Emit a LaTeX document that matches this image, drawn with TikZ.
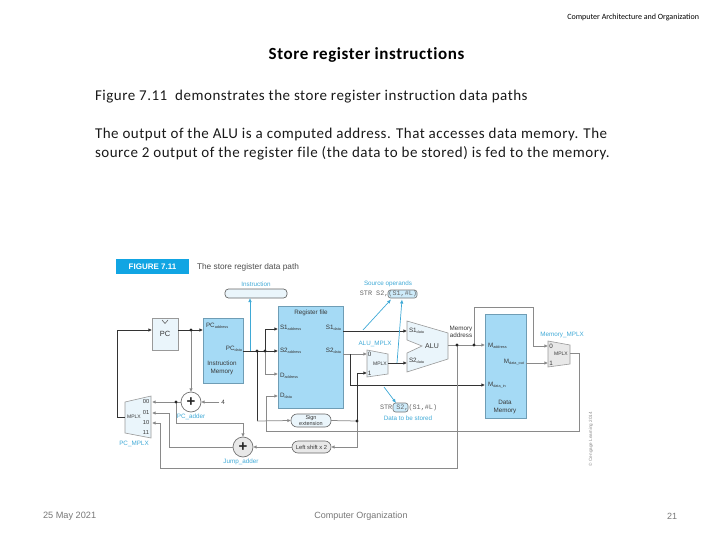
\documentclass[tikz,border=0pt]{standalone}
\usepackage{fontspec}
\setmainfont{Carlito}
\newfontfamily\figfont{Liberation Sans}
\newfontfamily\codefont{Liberation Mono}
\newfontfamily\bodyfont[LetterSpace=3.4,Ligatures=NoCommon]{Carlito}
\usetikzlibrary{arrows.meta,positioning,calc}
\definecolor{memblue}{HTML}{A5DAF5}
\definecolor{edgeblue}{HTML}{6F9DB5}
\definecolor{paleblue}{HTML}{EAF5FB}
\definecolor{cyantext}{HTML}{3FA9D6}
\definecolor{figcyan}{HTML}{11A5E3}
\definecolor{darkline}{HTML}{333333}
\definecolor{greyline}{HTML}{8A8A8A}
\definecolor{palegrey}{HTML}{E8E8E8}
\definecolor{foot}{HTML}{777777}
\newcommand{\sbs}[1]{\raisebox{-1.2pt}{\fontsize{3.8}{4}\selectfont #1}}
\tikzset{
  x=1pt,y=-1pt,
  every node/.style={inner sep=0pt,outer sep=0pt},
  figtext/.style={font=\figfont\fontsize{6.3}{7.4}\selectfont,text=black!78,align=center},
  port/.style={font=\figfont\fontsize{6.3}{7.4}\selectfont,text=black!78},
  cyanlabel/.style={font=\figfont\fontsize{6.3}{7.4}\selectfont,text=cyantext,align=center},
  bodytext/.style={font=\bodyfont\fontsize{15}{18}\selectfont,anchor=west,text=black!90},
  memorybox/.style={draw=edgeblue,fill=memblue,line width=0.9pt,inner sep=0pt},
  palebox/.style={draw=black!40,fill=paleblue,line width=0.6pt},
  pill/.style={draw=black!60,rounded corners=6pt,line width=0.6pt,inner sep=0pt},
  adder/.style={circle,draw=black!55,line width=0.7pt,minimum size=20pt,font=\figfont\bfseries\fontsize{15}{15}\selectfont,text=black!85},
  dk/.style={draw=darkline,line width=0.8pt},
  gy/.style={draw=greyline,line width=0.75pt},
  tip/.style={-{Latex[length=3.6pt,width=3.4pt]}},
  cy/.style={draw=cyantext,line width=0.7pt,-{Latex[length=4pt,width=3.6pt]}},
  dot/.style={circle,fill=black!85,minimum size=3.4pt},
  codetext/.style={font=\codefont\fontsize{6.8}{8}\selectfont,text=black!60},
}
\begin{document}
\begin{tikzpicture}
\useasboundingbox (0,0) rectangle (720,540);
% slide text
\node[anchor=east,font=\fontsize{8}{9}\selectfont] (header) at (699,17.5) {Computer Architecture and Organization};
\node[font=\bodyfont\bfseries\fontsize{17}{20}\selectfont] (title) at (366.5,55) {Store register instructions};
\node[bodytext] (line1) at (95,96.5) {Figure 7.11\hspace{4pt} demonstrates the store register instruction data paths};
\node[bodytext] (line2) at (95,134.5) {The output of the ALU is a computed address. That accesses data memory. The};
\node[bodytext] (line3) at (95,153.5) {source 2 output of the register file (the data to be stored) is fed to the memory.};
\node[anchor=west,font=\figfont\fontsize{9.2}{10}\selectfont,text=foot] (fdate) at (43,516) {25 May 2021};
\node[font=\figfont\fontsize{9}{10}\selectfont,text=foot] (forg) at (361,516) {Computer Organization};
\node[font=\figfont\fontsize{9}{10}\selectfont,text=foot] (fpage) at (672,516) {21};
% figure heading
\node[fill=figcyan,text=white,font=\figfont\bfseries\fontsize{8}{9}\selectfont,minimum width=73pt,minimum height=15pt] (figtag) at (152.5,266.5) {FIGURE 7.11};
\node[anchor=west,font=\figfont\fontsize{8.3}{9}\selectfont,text=black!70] (figcap) at (197,267) {The store register data path};
% boxes
\node[palebox,minimum width=26pt,minimum height=32pt] (pc) at (165,334) {};
\node[figtext,font=\figfont\fontsize{7.5}{9}\selectfont] (pclabel) at (165,334) {PC};
\draw[black!60,line width=0.6pt] (162,320) -- (165,323.5) -- (168,320);
\node[memorybox,minimum width=40pt,minimum height=65pt] (imem) at (223,350.5) {};
\node[memorybox,minimum width=65pt,minimum height=102pt] (regfile) at (310.5,357) {};
\node[memorybox,minimum width=41pt,minimum height=104pt] (dmem) at (505.5,366) {};
\node[draw=black!60,fill=paleblue,rounded corners=3.5pt,line width=0.7pt,minimum width=62pt,minimum height=9pt] (instr) at (256,293.5) {};
\node[cyanlabel] (instrlabel) at (256,284) {Instruction};
\node[pill,fill=paleblue,minimum width=40pt,minimum height=13pt,figtext,font=\figfont\fontsize{5.5}{6}\selectfont] (signext) at (311,420.5) {Sign\\extension};
\node[pill,fill=palegrey,minimum width=39pt,minimum height=12pt,figtext,font=\figfont\fontsize{5.8}{7}\selectfont] (lshift) at (311.5,447) {Left shift x 2};
\node[adder,fill=white] (pcadd) at (191,402) {+};
\node[adder,fill=palegrey] (jadd) at (243,447) {+};
% MUXes and ALU
\draw[palebox] (125,402) -- (151,396) -- (151,438) -- (125,433) -- cycle;
\draw[palebox] (367,350) -- (388,354) -- (388,374) -- (367,377) -- cycle;
\draw[draw=black!40,fill=palegrey,line width=0.6pt] (548,341) -- (570,345) -- (570,364) -- (548,367) -- cycle;
\draw[palebox] (407,321) -- (448,333) -- (448,359) -- (407,372) -- (407,353) -- (422,346) -- (407,340) -- cycle;
% named junctions and ports
\coordinate (jpc) at (191,330);
\coordinate (pcl) at (117,330);
\coordinate (pcmuxin) at (125,417);
\coordinate (jpa) at (176,402);
\coordinate (mux00) at (152,402);
\coordinate (mux01) at (152,413);
\coordinate (mux10) at (152,423);
\coordinate (jd1) at (257,351);
\coordinate (jd2) at (265,351);
\coordinate (jsign) at (357,421);
\coordinate (almux0) at (367,354);
\coordinate (almux1) at (367,373);
\coordinate (almuxout) at (388,363);
\coordinate (alus1) at (407,331);
\coordinate (alus2) at (407,363);
\coordinate (aluout) at (448,345);
\coordinate (ja1) at (457,345);
\coordinate (ja2) at (474,345);
\coordinate (memmux0) at (548,346);
\coordinate (memmux1) at (548,363);
\coordinate (memmuxout) at (570,353);
\node[figtext] (fourlabel) at (223,402) {4};
% connectors
\draw[dk,tip] (pcmuxin) -- (pcmuxin -| pcl) -- (pcl) -- (pc.west |- pcl);
\draw[dk] (pc.east |- jpc) -- (jpc);
\draw[dk,tip] (jpc) -- (imem.west |- jpc);
\draw[gy,tip] (jpc) -- (pcadd.north);
\draw[dk] (imem.east |- jd1) -- (jd2);
\draw[dk,tip] (jd2) -- (regfile.west |- jd2);
\draw[dk,tip] (jd2) -- (265,329) -- (regfile.west |- 0,329);
\draw[gy,tip] (jd2) -- (265,374) -- (regfile.west |- 0,374);
\draw[dk] (jd1) -- (257,421);
\draw[gy,tip] (257,421) -- (signext.west);
\draw[gy] (signext.east) -- (jsign);
\draw[dk,tip] (jsign) -- (jsign |- almux1) -- (almux1);
\draw[gy,tip] (jsign) -- (357,447) -- (lshift.east);
\draw[gy,tip] (lshift.west) -- (jadd.east);
\draw[gy,tip] (jadd.west) -- (169,447) -- (169,413) -- (mux01);
\draw[dk,tip] (regfile.east |- alus1) -- (alus1);
\draw[gy,tip] (regfile.east |- almux0) -- (almux0);
\draw[dk,tip] (350,354) -- (350,385) -- (dmem.west |- 0,385);
\draw[dk,tip,line width=1pt] (almuxout) -- (alus2);
\draw[gy] (aluout) -- (ja2);
\draw[gy,tip] (ja2) -- (dmem.west |- ja2);
\draw[gy,tip] (ja2) -- (474,307) -- (533,307) -- (533,346) -- (memmux0);
\draw[gy,tip] (dmem.east |- memmux1) -- (memmux1);
\draw[gy,tip] (memmuxout) -- (579,353) -- (579,431) -- (266,431) -- (266,396) -- (regfile.west |- 0,396);
\draw[gy,tip] (ja1) -- (457,468) -- (160,468) -- (160,423) -- (mux10);
\draw[gy,tip] (pcadd.west) -- (mux00);
\draw[gy,tip] (jpa) -- (176,423) -- (243,423) -- (jadd.north);
\draw[gy,tip] (fourlabel.west) ++(-2,0) -- (pcadd.east);
% dots
\foreach \n in {jpc,jpa,jd1,jd2,jsign,ja1,ja2}
  \node[dot] at (\n) {};
% cyan arrows
\coordinate (srcA) at (391,299.5);
\coordinate (srcB) at (402,299.5);
\coordinate (dataT) at (396,403);
\draw[cy] (250,351) -- (instr.south -| 250,0);
\draw[cy] (363,330) -- (srcA);
\draw[cy] (397,363) -- (srcB);
\draw[cy] (384,387) -- (dataT);
% labels in boxes
\node[figtext] (rflabel) at (311,313) {Register file};
\node[port,anchor=west] (ps1) at (280,328) {S1\sbs{address}};
\node[port,anchor=west] (ps2) at (280,351) {S2\sbs{address}};
\node[port,anchor=west] (pd) at (280,376) {D\sbs{address}};
\node[port,anchor=west] (pdd) at (280,396) {D\sbs{data}};
\node[port,anchor=east] (ps1d) at (341,328) {S1\sbs{data}};
\node[port,anchor=east] (ps2d) at (341,351) {S2\sbs{data}};
\node[port,anchor=west] (ppca) at (206,326) {PC\sbs{address}};
\node[port,anchor=east] (ppcd) at (242,349) {PC\sbs{data}};
\node[figtext] (imlabel) at (222,368) {Instruction\\Memory};
\node[port,anchor=west] (pma) at (488,345.5) {M\sbs{address}};
\node[port,anchor=east] (pmo) at (524,362) {M\sbs{data\_out}};
\node[port,anchor=west] (pmi) at (488,385) {M\sbs{data\_in}};
\node[figtext] (dmlabel) at (505,407) {Data\\Memory};
\node[port,anchor=west] (ps1al) at (409,331) {S1\sbs{data}};
\node[port,anchor=west] (ps2al) at (409,361) {S2\sbs{data}};
\node[figtext,font=\figfont\fontsize{7}{8}\selectfont] (alulabel) at (432,346) {ALU};
\node[figtext] (maddr) at (461,332) {Memory\\address};
\node[figtext,font=\figfont\fontsize{5}{6}\selectfont] (m1) at (380,363.5) {MPLX};
\node[port] (m1a) at (369.5,354.5) {0};
\node[port] (m1b) at (369.5,373) {1};
\node[figtext,font=\figfont\fontsize{5}{6}\selectfont] (m2) at (561,354) {MPLX};
\node[port] (m2a) at (551,346) {0};
\node[port] (m2b) at (551,363) {1};
\node[figtext,font=\figfont\fontsize{5}{6}\selectfont] (m3) at (134,417) {MPLX};
\node[port,font=\figfont\fontsize{5.8}{7}\selectfont] (p00) at (146,402) {00};
\node[port,font=\figfont\fontsize{5.8}{7}\selectfont] (p01) at (146,412.5) {01};
\node[port,font=\figfont\fontsize{5.8}{7}\selectfont] (p10) at (146,423) {10};
\node[port,font=\figfont\fontsize{5.8}{7}\selectfont] (p11) at (146,433) {11};
% outer labels
\node[cyanlabel] (lpcm) at (134,444) {PC\_MPLX};
\node[cyanlabel] (lpca) at (191,416.5) {PC\_adder};
\node[cyanlabel] (lja) at (241,462) {Jump\_adder};
\node[cyanlabel] (lalm) at (375,344) {ALU\_MPLX};
\node[cyanlabel] (lmem) at (562,335) {Memory\_MPLX};
\node[cyanlabel] (lsrc) at (388,284) {Source operands};
\node[cyanlabel] (ldat) at (408,418) {Data to be stored};
% code lines with highlights
\node[fill=memblue!55,draw=black!55,rounded corners=2.5pt,line width=0.6pt,minimum width=29pt,minimum height=8pt] (hlsrc) at (402.5,294) {};
\node[fill=memblue!55,draw=black!55,rounded corners=2.5pt,line width=0.6pt,minimum width=15pt,minimum height=9pt] (hldat) at (400.5,407.5) {};
\node[codetext,anchor=east] (code1) at (417,294) {STR S2,(S1,\#L)};
\node[codetext,anchor=west] (code2) at (380,407.5) {STR S2,(S1,\#L)};
\node[rotate=90,font=\figfont\fontsize{4.6}{5}\selectfont,text=black!45] (copy) at (591,439) {© Cengage Learning 2014};
\end{tikzpicture}
\end{document}
